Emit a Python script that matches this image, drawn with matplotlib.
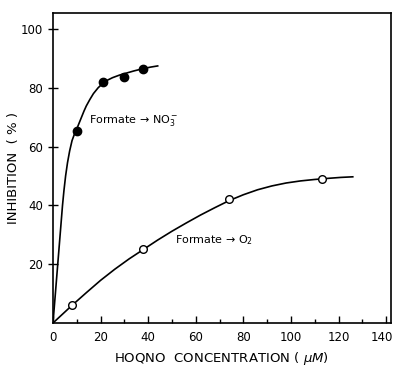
import matplotlib
matplotlib.use("Agg")
import matplotlib.pyplot as plt
from matplotlib.ticker import MultipleLocator
import matplotlib.transforms as mtransforms

# Data points
no3_x = [10, 21, 30, 38]
no3_y = [65.3, 82.0, 83.6, 86.5]
o2_x = [8, 38, 74, 113]
o2_y = [6.0, 25.0, 42.0, 48.8]

# Hand-drawn fitted curves
no3_curve_x = [0, 0.5, 1, 1.5, 2, 2.5, 3, 3.5, 4, 4.6, 5.3, 6.1, 7, 8, 9, 10, 11, 12, 13, 14,
               15.5, 17, 19, 21, 23, 25, 28, 31, 34, 38, 41, 44]
no3_curve_y = [0, 5, 10, 15, 20, 25, 30, 35, 40, 45, 50, 54.5, 58.5, 62, 64.2, 66, 68, 70, 72, 73.8,
               76, 78, 80, 81.5, 82.6, 83.4, 84.3, 85, 85.7, 86.5, 87, 87.4]
o2_curve_x = [0, 4, 8, 14, 20, 26, 32, 38, 44, 50, 56, 62, 68, 74, 80, 86, 92, 98, 104, 110, 116, 121, 126]
o2_curve_y = [0, 3, 6, 10.3, 14.5, 18.3, 21.8, 25, 28.2, 31.2, 34, 36.7, 39.2, 41.6, 43.6, 45.3, 46.6,
              47.6, 48.3, 48.8, 49.2, 49.5, 49.7]

x_ticks = [0, 20, 40, 60, 80, 100, 120, 140]
y_ticks = [20, 40, 60, 80, 100]

plt.rcParams['font.family'] = ['DejaVu Sans']
fig = plt.figure(figsize=(3.94, 3.68), dpi=100)
ax = fig.add_axes([0.1345, 0.1223, 0.992 - 0.1345, 0.9647 - 0.1223])

ax.plot(no3_curve_x, no3_curve_y, color='black', lw=1.2, solid_joinstyle='round')
ax.plot(o2_curve_x, o2_curve_y, color='black', lw=1.2, solid_joinstyle='round')
ax.plot(no3_x, no3_y, 'o', color='black', ms=6, zorder=3)
ax.plot(o2_x, o2_y, 'o', mfc='white', mec='black', mew=1.0, ms=5.5, zorder=3)

ax.set_xlim(0, 142)
ax.set_ylim(0, 105.4)
ax.set_xticks(x_ticks)
ax.set_yticks(y_ticks)
ax.xaxis.set_minor_locator(MultipleLocator(10))
ax.tick_params(axis='x', which='major', direction='in', length=5, width=1, labelsize=8.5, pad=6)
ax.tick_params(axis='x', which='minor', direction='in', length=3, width=1)
ax.tick_params(axis='y', which='major', direction='inout', length=7, width=1, labelsize=8.5)
for s in ax.spines.values():
    s.set_linewidth(1.2)

# nudge the last x tick label so it stays in the picture
lbl = ax.get_xticklabels()[-1]
lbl.set_transform(lbl.get_transform() + mtransforms.ScaledTranslation(-4 / 100, 0, fig.dpi_scale_trans))

ax.set_xlabel('HOQNO  CONCENTRATION ( $\\mu$$M$)', fontsize=9.5, labelpad=4)
ax.set_ylabel('INHIBITION  ( % )', fontsize=9.5, labelpad=1)

ax.text(15.0, 69, 'Formate \u2192 NO$_3^-$', fontsize=8, va='center', ha='left')
ax.text(51.3, 28.2, 'Formate \u2192 O$_2$', fontsize=8, va='center', ha='left')

fig.savefig('out.png', dpi=100)
